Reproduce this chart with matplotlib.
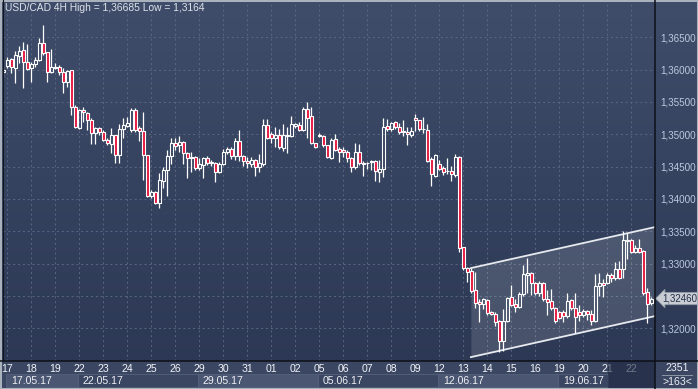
import numpy as np
import matplotlib
matplotlib.use('Agg')
import matplotlib.pyplot as plt
from matplotlib.patches import Rectangle
from matplotlib.lines import Line2D
from matplotlib.colors import LinearSegmentedColormap
import matplotlib.transforms as mtransforms

plt.rcParams['font.family'] = ['Liberation Sans', 'DejaVu Sans']

# USD/CAD 4H candles (163 bars)
opens = [
    1.35963, 1.36056, 1.36165, 1.36025, 1.36211, 1.36304, 1.36118, 1.36025, 1.36087, 1.36149,
    1.36412, 1.36273, 1.35963, 1.36040, 1.36040, 1.35963, 1.35808, 1.35994, 1.35422, 1.35097,
    1.35375, 1.35329, 1.35221, 1.35020, 1.35097, 1.35035, 1.34911, 1.34849, 1.34989, 1.34680,
    1.35082, 1.35128, 1.35066, 1.35375, 1.35097, 1.35051, 1.34680, 1.34045, 1.34107, 1.33937,
    1.34277, 1.34447, 1.34664, 1.34865, 1.34834, 1.34880, 1.34711, 1.34633, 1.34649, 1.34478,
    1.34525, 1.34633, 1.34571, 1.34556, 1.34416, 1.34540, 1.34726, 1.34772, 1.34664, 1.34896,
    1.34664, 1.34587, 1.34540, 1.34602, 1.34494, 1.34540, 1.35144, 1.35004, 1.34942, 1.34989,
    1.34788, 1.34973, 1.34973, 1.35128, 1.35144, 1.35066, 1.35390, 1.35283, 1.34865, 1.34989,
    1.34973, 1.34834, 1.34633, 1.34927, 1.34772, 1.34757, 1.34726, 1.34633, 1.34494, 1.34726,
    1.34556, 1.34556, 1.34571, 1.34587, 1.34416, 1.34463, 1.35128, 1.35082, 1.35190, 1.35113,
    1.35051, 1.35035, 1.34989, 1.35252, 1.35221, 1.35082, 1.35066, 1.34618, 1.34354, 1.34540,
    1.34478, 1.34432, 1.34432, 1.34370, 1.34649, 1.33256, 1.32931, 1.32885, 1.32591, 1.32405,
    1.32374, 1.32436, 1.32250, 1.32219, 1.32111, 1.31802, 1.32111, 1.32483, 1.32374, 1.32328,
    1.32529, 1.32823, 1.32854, 1.32699, 1.32545, 1.32699, 1.32451, 1.32420, 1.32312, 1.32250,
    1.32250, 1.32188, 1.32436, 1.32312, 1.32250, 1.32204, 1.32266, 1.32219, 1.32111, 1.32653,
    1.32699, 1.32699, 1.32823, 1.32776, 1.32916, 1.32916, 1.33364, 1.33364, 1.33179, 1.33241,
    1.33194, 1.32560, 1.32390]
highs = [
    1.36056, 1.36196, 1.36180, 1.36288, 1.36365, 1.36427, 1.36396, 1.36118, 1.36196, 1.36489,
    1.36690, 1.36273, 1.36319, 1.36103, 1.36071, 1.36025, 1.35994, 1.35994, 1.35453, 1.35390,
    1.35422, 1.35344, 1.35252, 1.35113, 1.35113, 1.35066, 1.34942, 1.35097, 1.34989, 1.35159,
    1.35252, 1.35267, 1.35406, 1.35406, 1.35128, 1.35344, 1.34680, 1.34138, 1.34122, 1.34401,
    1.34493, 1.34757, 1.34942, 1.34942, 1.34973, 1.34896, 1.34726, 1.34726, 1.34664, 1.34633,
    1.34649, 1.34664, 1.34602, 1.34571, 1.34571, 1.34772, 1.34803, 1.34803, 1.34942, 1.35066,
    1.34680, 1.34649, 1.34649, 1.34618, 1.34695, 1.35236, 1.35236, 1.35035, 1.35113, 1.35082,
    1.35159, 1.35113, 1.35283, 1.35175, 1.35190, 1.35422, 1.35499, 1.35422, 1.34865, 1.35020,
    1.34989, 1.34834, 1.34942, 1.35004, 1.34803, 1.34803, 1.34757, 1.34649, 1.34865, 1.34849,
    1.34587, 1.34571, 1.34602, 1.34602, 1.34602, 1.35252, 1.35236, 1.35190, 1.35206, 1.35175,
    1.35221, 1.35113, 1.35113, 1.35314, 1.35221, 1.35267, 1.35159, 1.34649, 1.34695, 1.34602,
    1.34509, 1.34633, 1.34509, 1.34695, 1.34664, 1.33256, 1.32946, 1.32931, 1.32869, 1.32451,
    1.32467, 1.32451, 1.32266, 1.32250, 1.32127, 1.32297, 1.32483, 1.32668, 1.32451, 1.32560,
    1.32978, 1.33086, 1.32869, 1.32714, 1.32730, 1.32714, 1.32591, 1.32606, 1.32328, 1.32266,
    1.32281, 1.32545, 1.32451, 1.32545, 1.32359, 1.32297, 1.32281, 1.32281, 1.32838, 1.32854,
    1.32761, 1.32854, 1.32854, 1.33024, 1.33040, 1.33503, 1.33472, 1.33380, 1.33287, 1.33380,
    1.33210, 1.32622, 1.32483]
lows = [
    1.35886, 1.36025, 1.35948, 1.35793, 1.36103, 1.35716, 1.35994, 1.35808, 1.36040, 1.36134,
    1.36226, 1.35808, 1.35948, 1.36010, 1.35917, 1.35638, 1.35731, 1.35298, 1.35097, 1.35082,
    1.35190, 1.35066, 1.34849, 1.34849, 1.34989, 1.34896, 1.34834, 1.34711, 1.34556, 1.34556,
    1.34942, 1.35113, 1.35035, 1.35035, 1.34896, 1.34292, 1.34030, 1.34014, 1.33921, 1.33859,
    1.34169, 1.34045, 1.34540, 1.34757, 1.34726, 1.34540, 1.34323, 1.34416, 1.34447, 1.34447,
    1.34323, 1.34525, 1.34509, 1.34261, 1.34401, 1.34525, 1.34695, 1.34618, 1.34602, 1.34587,
    1.34509, 1.34478, 1.34494, 1.34354, 1.34416, 1.34509, 1.34927, 1.34865, 1.34803, 1.34772,
    1.34742, 1.34711, 1.34958, 1.35097, 1.35051, 1.35051, 1.34942, 1.34849, 1.34788, 1.34958,
    1.34803, 1.34633, 1.34618, 1.34742, 1.34571, 1.34649, 1.34571, 1.34416, 1.34463, 1.34525,
    1.34354, 1.34463, 1.34447, 1.34277, 1.34261, 1.34339, 1.35051, 1.35051, 1.35082, 1.35004,
    1.34973, 1.34834, 1.34958, 1.35051, 1.35051, 1.35020, 1.34571, 1.34199, 1.34339, 1.34447,
    1.34370, 1.34385, 1.34277, 1.34339, 1.33179, 1.32900, 1.32714, 1.32545, 1.32312, 1.32096,
    1.32297, 1.32204, 1.32204, 1.32034, 1.31632, 1.31647, 1.32096, 1.32343, 1.32250, 1.32312,
    1.32498, 1.32545, 1.32514, 1.32514, 1.32498, 1.32420, 1.32204, 1.32281, 1.32080, 1.32142,
    1.32096, 1.32158, 1.32281, 1.31926, 1.32111, 1.32173, 1.32127, 1.32049, 1.32096, 1.32498,
    1.32483, 1.32684, 1.32714, 1.32745, 1.32761, 1.32776, 1.33071, 1.33163, 1.33163, 1.33163,
    1.32514, 1.32080, 1.32359]
closes = [
    1.35994, 1.36149, 1.36040, 1.36226, 1.36288, 1.36118, 1.36010, 1.36087, 1.36149, 1.36412,
    1.36257, 1.35963, 1.36040, 1.36025, 1.35963, 1.35808, 1.35979, 1.35422, 1.35113, 1.35375,
    1.35344, 1.35221, 1.35020, 1.35097, 1.35035, 1.34911, 1.34865, 1.34989, 1.34680, 1.35082,
    1.35144, 1.35175, 1.35375, 1.35066, 1.35051, 1.34680, 1.34045, 1.34107, 1.33937, 1.34292,
    1.34447, 1.34664, 1.34865, 1.34818, 1.34880, 1.34711, 1.34633, 1.34649, 1.34478, 1.34540,
    1.34633, 1.34556, 1.34556, 1.34416, 1.34540, 1.34726, 1.34772, 1.34664, 1.34896, 1.34664,
    1.34587, 1.34556, 1.34602, 1.34494, 1.34556, 1.35144, 1.34942, 1.34942, 1.34989, 1.34803,
    1.34989, 1.34989, 1.35159, 1.35159, 1.35066, 1.35390, 1.35252, 1.34865, 1.34803, 1.34973,
    1.34834, 1.34649, 1.34911, 1.34757, 1.34726, 1.34726, 1.34633, 1.34494, 1.34726, 1.34556,
    1.34540, 1.34560, 1.34587, 1.34432, 1.34463, 1.35113, 1.35082, 1.35175, 1.35113, 1.35035,
    1.35035, 1.35004, 1.35051, 1.35221, 1.35082, 1.35077, 1.34587, 1.34385, 1.34680, 1.34463,
    1.34416, 1.34427, 1.34385, 1.34649, 1.33241, 1.32931, 1.32869, 1.32576, 1.32390, 1.32374,
    1.32451, 1.32235, 1.32219, 1.32096, 1.31802, 1.32111, 1.32467, 1.32359, 1.32328, 1.32529,
    1.32838, 1.32854, 1.32699, 1.32545, 1.32699, 1.32451, 1.32405, 1.32312, 1.32111, 1.32158,
    1.32188, 1.32420, 1.32312, 1.32173, 1.32204, 1.32266, 1.32219, 1.32111, 1.32653, 1.32699,
    1.32668, 1.32823, 1.32776, 1.32916, 1.32776, 1.33364, 1.33349, 1.33179, 1.33241, 1.33179,
    1.32545, 1.32374, 1.32460]

days = ['17', '18', '19', '22', '23', '24', '25', '26', '29', '30', '31', '01', '02', '05',
        '06', '07', '08', '09', '12', '13', '14', '15', '16', '19', '20', '21', '22']
weeks = ['17.05.17', '22.05.17', '29.05.17', '05.06.17', '12.06.17', '19.06.17']
week_first_day = [0, 3, 8, 13, 18, 23]
price_ticks = [1.32, 1.325, 1.33, 1.335, 1.34, 1.345, 1.35, 1.355, 1.36, 1.365]

# rising channel drawn on the chart
channel_x = [116.9, 162.9]
channel_upper = [1.32931, 1.33565]
channel_lower = [1.31554, 1.32188]

title = 'USD/CAD 4H High = 1,36685 Low = 1,3164'
last_price = 1.32460

W, H = 698, 389
fig = plt.figure(figsize=(W / 100, H / 100), dpi=100)

# background gradient + bottom strip (in a full-figure axes so they stay underneath)
bg = fig.add_axes([0, 0, 1, 1])
cmap = LinearSegmentedColormap.from_list('bg', ['#3f4d6a', '#2b3753'])
bg.imshow(np.linspace(0, 1, 256).reshape(-1, 1), aspect='auto', cmap=cmap,
          extent=[0, 1, 0, 1], zorder=0)
bg.add_patch(Rectangle((0, 0), 1, (H - 361) / H, fc='#3a4662', ec='none', zorder=1))
bg.set_xlim(0, 1)
bg.set_ylim(0, 1)
bg.axis('off')

ax = fig.add_axes([3 / W, (H - 361) / H, (655 - 3) / W, (361 - 2) / H])
ax.patch.set_alpha(0)
n = len(opens)
x = np.arange(n)
o = np.array(opens)
c = np.array(closes)
hi = np.array(highs)
lo = np.array(lows)
top = np.maximum(o, c)
bot = np.minimum(o, c)
face = ['none' if cc >= oo else '#e5173f' for oo, cc in zip(o, c)]
hgt = np.maximum(top - bot, 0.00003)

ax.fill_between(channel_x, channel_lower, channel_upper, color='white', alpha=0.13, lw=0, zorder=1)
ax.plot(channel_x, channel_upper, color='#e6e9ee', lw=1.3, zorder=2)
ax.plot(channel_x, channel_lower, color='#e6e9ee', lw=1.3, zorder=2)

ax.vlines(x, top, hi, color='white', lw=0.9, zorder=3)
ax.vlines(x, lo, bot, color='white', lw=0.9, zorder=3)
ax.bar(x, hgt, bottom=bot, width=0.6, color=face, edgecolor='white', linewidth=0.8, zorder=4)

ax.set_xlim(-0.08, 162.92)
ax.set_ylim(1.31494, 1.37046)

day_pos = [1 + 6 * k for k in range(len(days))]
ax.set_xticks(day_pos)
ax.set_xticklabels(days)
ax.set_yticks(price_ticks)
ax.set_yticklabels(['' if abs(p - 1.325) < 1e-6 else f'{p:.5f}'.replace('.', ',') for p in price_ticks])
ax.yaxis.tick_right()
ax.tick_params(axis='y', length=0, pad=4, labelsize=7.1, labelcolor='#bccae0')
ax.tick_params(axis='x', length=0, pad=2, labelsize=7.6, labelcolor='#f2f4f7')
ax.grid(True, color='#5b6782', linestyle=(0, (2, 3)), linewidth=0.7)
ax.set_axisbelow(True)
for s in ax.spines.values():
    s.set_visible(False)

# week boxes under the day labels
trans = ax.get_xaxis_transform()
ah = 359.0
edges = [1 + 6 * d - 0.3 for d in week_first_day] + [151.2]
edges[0] = 0.7
for i, wk in enumerate(weeks):
    x0, x1 = edges[i], edges[i + 1]
    fc = '#4b5672' if i % 2 == 0 else '#3a4662'
    ax.add_patch(Rectangle((x0, (361 - 387) / ah), x1 - x0, 13 / ah, transform=trans,
                           fc=fc, ec='#56617b', lw=0.6, clip_on=False, zorder=5))
    ax.text(x0 + 1.2, (361 - 381) / ah, wk, transform=trans, ha='left', va='center',
            fontsize=7.6, color='#eef0f4', clip_on=False, zorder=6)

# dimmed region for the current day
ax.add_patch(Rectangle((151.2, -28 / ah), 162.92 - 151.2, 28 / ah, transform=trans,
                       fc='#1d2640', alpha=0.6, ec='none', clip_on=False, zorder=7))

# last price tag
tr2 = mtransforms.blended_transform_factory(ax.transAxes, ax.transData)
ax.text(1.011, last_price, f'{last_price:.5f}'.replace('.', ','), transform=tr2,
        ha='left', va='center', fontsize=7.0, color='#25304a', clip_on=False, zorder=8,
        bbox=dict(boxstyle='larrow,pad=0.12', fc='#c9cdd3', ec='#8e97a4', lw=0.6))

# frame lines
fig.add_artist(Line2D([655 / W, 655 / W], [0, 1], color='#0c1017', lw=1.1))
fig.add_artist(Line2D([0, 1], [(H - 361) / H, (H - 361) / H], color='#0c1017', lw=1.1))
fig.add_artist(Line2D([3 / W, 3 / W], [(H - 361) / H, 1], color='#10151e', lw=0.8))
fig.add_artist(Rectangle((0, 0), 1, 1, transform=fig.transFigure, fill=False,
                         ec='#a9b1bd', lw=2.2))

fig.text(5 / W, 1 - 8 / H, title, ha='left', va='center', fontsize=7.4, color='#dde2e9')
fig.text(677 / W, 1 - 368 / H, '2351', ha='center', va='center', fontsize=7.6, color='#eef0f4')
fig.text(677 / W, 1 - 382 / H, '>163<', ha='center', va='center', fontsize=7.6, color='#eef0f4')
fig.add_artist(Line2D([662 / W, 692 / W], [1 - 375 / H, 1 - 375 / H], color='#8d97a8', lw=0.7))

fig.savefig('out.png', dpi=100)
